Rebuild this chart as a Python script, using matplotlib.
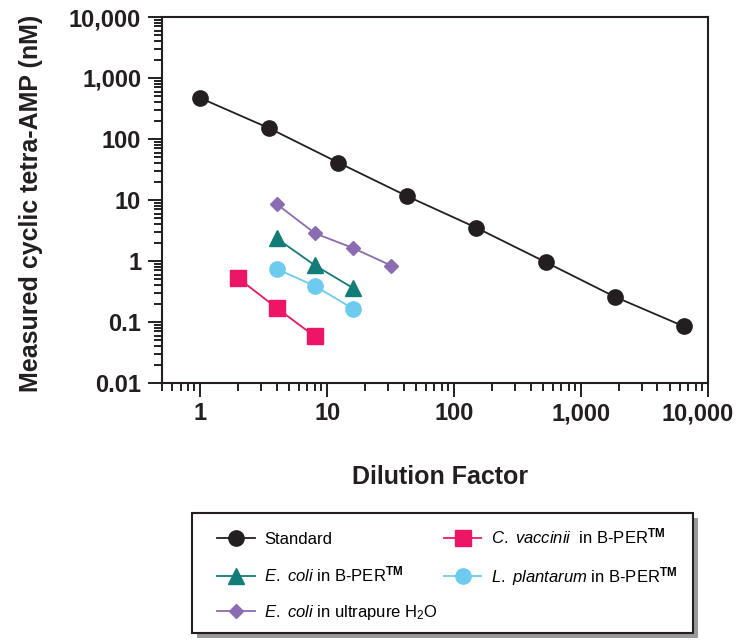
import matplotlib
matplotlib.use("Agg")
import matplotlib.pyplot as plt
import matplotlib.transforms as mtransforms
from matplotlib.patches import Rectangle
from matplotlib.ticker import FixedLocator, LogLocator, NullFormatter

plt.rcParams["font.family"] = ["Liberation Sans", "DejaVu Sans"]
plt.rcParams["mathtext.fontset"] = "custom"
plt.rcParams["mathtext.rm"] = "Liberation Sans"
plt.rcParams["mathtext.it"] = "Liberation Sans:italic"
plt.rcParams["mathtext.bf"] = "Liberation Sans:bold"

# Standard curve (3.5-fold serial dilution)
std_dilution = [1, 3.5, 12.25, 42.875, 150.06, 525.2, 1838.3, 6433.9]
std_conc = [470, 150, 41, 11.5, 3.5, 0.96, 0.26, 0.085]

# Lysate samples (2-fold serial dilutions)
cvac_dilution = [2, 4, 8]
cvac_conc = [0.52, 0.17, 0.058]

ecoli_bper_dilution = [4, 8, 16]
ecoli_bper_conc = [2.35, 0.85, 0.36]

lplant_dilution = [4, 8, 16]
lplant_conc = [0.74, 0.39, 0.165]

ecoli_h2o_dilution = [4, 8, 16, 32]
ecoli_h2o_conc = [8.6, 2.85, 1.63, 0.84]

x_ticks = [1, 10, 100, 1000, 10000]
x_ticklabels = ["1", "10", "100", "1,000", "10,000"]
y_ticks = [0.01, 0.1, 1, 10, 100, 1000, 10000]
y_ticklabels = ["0.01", "0.1", "1", "10", "100", "1,000", "10,000"]

W, H = 741, 641
fig = plt.figure(figsize=(W / 100, H / 100), dpi=100)
ax = fig.add_axes([162 / W, 1 - 383 / H, 546 / W, 366 / H])

lw = 1.3
TM = r"$^{\mathbf{TM}}$"
h_std, = ax.plot(std_dilution, std_conc, "-o", color="#231f20", lw=lw, ms=11,
                 label="Standard", zorder=3)
h_ecb, = ax.plot(ecoli_bper_dilution, ecoli_bper_conc, "-^", color="#127c78", lw=lw, ms=11.5,
                 label=r"$\it{E.}$ $\it{coli}$ in B-PER" + TM, zorder=3)
h_ech, = ax.plot(ecoli_h2o_dilution, ecoli_h2o_conc, "-D", color="#8b6bb1", lw=lw, ms=7.2,
                 label=r"$\it{E.}$ $\it{coli}$ in ultrapure H$_2$O", zorder=3)
h_cv, = ax.plot(cvac_dilution, cvac_conc, "-s", color="#ed1566", lw=lw, ms=11,
                label=r"$\it{C.}$ $\it{vaccinii}$  in B-PER" + TM, zorder=3)
h_lp, = ax.plot(lplant_dilution, lplant_conc, "-o", color="#6dcbf0", lw=lw, ms=11,
                label=r"$\it{L.}$ $\it{plantarum}$ in B-PER" + TM, zorder=3)

ax.set_xscale("log")
ax.set_yscale("log")
ax.set_xlim(0.5, 10000)
ax.set_ylim(0.01, 10000)

ax.xaxis.set_major_locator(FixedLocator(x_ticks))
ax.set_xticklabels(x_ticklabels)
ax.yaxis.set_major_locator(FixedLocator(y_ticks))
ax.set_yticklabels(y_ticklabels)
for axis in (ax.xaxis, ax.yaxis):
    axis.set_minor_locator(LogLocator(base=10, subs=range(2, 10), numticks=20))
    axis.set_minor_formatter(NullFormatter())

ax.tick_params(which="major", direction="out", length=10, width=1.4,
               labelsize=17, pad=4, color="#231f20")
ax.tick_params(which="minor", direction="out", length=5.5, width=1.4, color="#231f20")
ax.tick_params(axis="y", which="major", pad=5)
for lab in ax.get_xticklabels() + ax.get_yticklabels():
    lab.set_fontweight("bold")
    lab.set_color("#231f20")

# keep the last x tick label inside the figure
last = ax.get_xticklabels()[-1]
last.set_transform(last.get_transform() +
                   mtransforms.ScaledTranslation(-10 / 100, 0, fig.dpi_scale_trans))

for sp in ax.spines.values():
    sp.set_linewidth(1.5)
    sp.set_color("#231f20")

ax.set_xlabel("Dilution Factor", fontsize=18, fontweight="bold", color="#231f20")
ax.xaxis.set_label_coords(0.509, -0.257)
ax.xaxis.label.set_va("center")
ax.set_ylabel("Measured cyclic tetra-AMP (nM)", fontsize=18, fontweight="bold",
              color="#231f20")
ax.yaxis.set_label_coords(-0.240, 0.49)
ax.yaxis.label.set_va("center")

# legend box with drop shadow
box_x0, box_y0, box_x1, box_y1 = 192, 513, 693, 633
fig.add_artist(Rectangle(((box_x0 + 5) / W, 1 - (box_y1 + 5) / H),
                         (box_x1 - box_x0) / W, (box_y1 - box_y0) / H,
                         transform=fig.transFigure, facecolor="#9a9a9a",
                         edgecolor="none", zorder=4))
fig.add_artist(Rectangle((box_x0 / W, 1 - box_y1 / H),
                         (box_x1 - box_x0) / W, (box_y1 - box_y0) / H,
                         transform=fig.transFigure, facecolor="white",
                         edgecolor="#231f20", linewidth=1.5, zorder=4.5))

handles = [h_std, h_ecb, h_ech, h_cv, h_lp]
leg = fig.legend(handles=handles, labels=[h.get_label() for h in handles],
                 ncol=2, loc="upper left", bbox_to_anchor=(217 / W, 1 - 527 / H),
                 fontsize=12, frameon=False, handlelength=2.25, handletextpad=0.6,
                 columnspacing=0.35, labelspacing=1.08, borderpad=0, borderaxespad=0)
leg.set_zorder(5)

fig.savefig("out.png", dpi=100)
